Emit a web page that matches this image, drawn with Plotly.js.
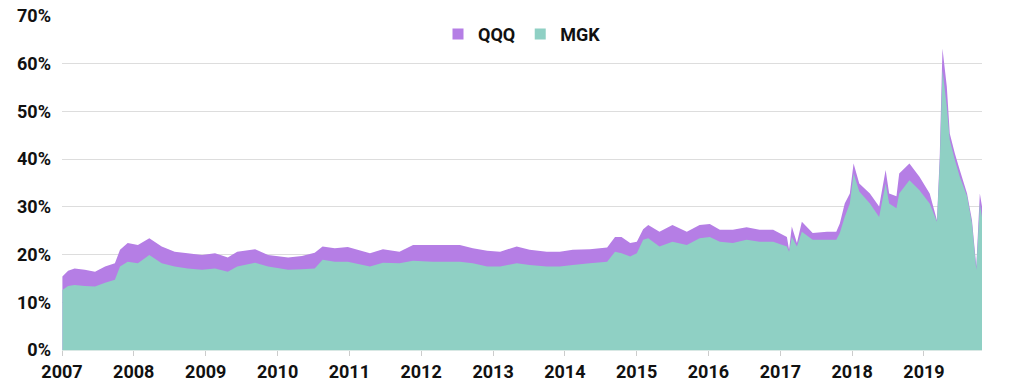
<!DOCTYPE html>
<html>
<head>
<meta charset="utf-8">
<script src="https://cdn.plot.ly/plotly-3.0.1.min.js"></script>
<style>html,body{margin:0;padding:0;background:#fff;}#chart{width:1015px;height:387px;}</style>
</head>
<body>
<div id="chart"></div>
<script>
const dates = [
"2007-01-03","2007-02-01","2007-03-06","2007-04-27","2007-06-18","2007-08-08","2007-09-27","2007-10-23","2007-12-01",
"2008-01-22","2008-03-20","2008-05-22","2008-07-27","2008-10-01","2008-12-13",
"2009-02-17","2009-04-23","2009-06-10","2009-09-09","2009-11-14",
"2010-02-24","2010-05-05","2010-07-09","2010-08-18","2010-10-19","2010-12-24",
"2011-04-16","2011-06-21","2011-09-13","2011-11-21",
"2012-02-28","2012-05-11","2012-07-16","2012-09-20","2012-12-02",
"2013-02-06","2013-05-01","2013-07-06","2013-10-01","2013-12-06",
"2014-02-10","2014-05-08","2014-08-04","2014-09-13","2014-10-16","2014-11-29",
"2015-01-02","2015-02-03","2015-03-01","2015-04-27","2015-07-02","2015-09-13","2015-11-17",
"2016-01-08","2016-02-28","2016-05-04","2016-07-13","2016-09-17","2016-11-25",
"2017-02-03","2017-02-14","2017-02-28","2017-03-26","2017-04-20","2017-06-14","2017-08-26","2017-10-12","2017-10-30","2017-11-24","2017-12-20",
"2018-01-08","2018-02-06","2018-04-01","2018-05-18","2018-06-20","2018-07-08","2018-08-14","2018-08-28","2018-10-19","2018-12-09",
"2019-01-30","2019-03-08","2019-03-22","2019-04-05","2019-04-27","2019-05-12","2019-06-07","2019-07-02","2019-08-08","2019-09-02","2019-09-24","2019-10-12","2019-10-23"
];
const qqq = [
15.4,16.6,17.1,16.8,16.4,17.5,18.2,21.0,22.4,
22.0,23.4,21.7,20.6,20.3,19.9,
20.3,19.4,20.6,21.1,19.9,
19.4,19.7,20.4,21.7,21.3,21.6,
20.3,21.1,20.6,22.0,
22.0,22.0,22.0,21.3,20.8,
20.6,21.7,21.0,20.6,20.6,
21.0,21.1,21.5,23.7,23.7,22.4,
22.7,25.3,26.2,24.8,26.2,24.8,26.2,
26.4,25.2,25.2,25.7,25.2,25.2,
23.7,21.0,25.9,22.4,26.9,24.5,24.8,24.8,26.5,30.7,32.8,
39.1,34.9,32.8,30.1,37.7,32.8,32.2,37.0,39.1,36.3,
32.8,27.2,40.5,63.2,55.2,45.4,41.2,37.7,32.8,27.2,17.5,32.8,30.1
];
const mgk = [
12.6,13.4,13.6,13.4,13.3,14.1,14.7,17.5,18.5,
18.2,19.9,18.2,17.5,17.1,16.8,
17.1,16.4,17.5,18.3,17.5,
16.8,16.9,17.1,18.9,18.5,18.5,
17.5,18.3,18.2,18.7,
18.5,18.5,18.5,18.2,17.5,
17.5,18.2,17.8,17.5,17.5,
17.8,18.2,18.5,20.6,20.3,19.6,
20.3,23.1,23.4,21.7,22.7,22.0,23.4,
23.7,22.7,22.4,23.1,22.7,22.7,
21.7,20.6,23.7,21.7,24.8,23.1,23.1,23.1,24.5,27.9,30.7,
37.0,33.2,30.7,27.9,34.9,30.7,29.7,32.8,35.6,33.5,
30.7,26.9,39.1,58.7,51.0,44.0,39.8,36.3,32.2,26.5,16.8,30.7,27.9
];
const seriesNames = ["QQQ","MGK"];
const yTickVals = [0,10,20,30,40,50,60,70];
const yTickText = ["0%","10%","20%","30%","40%","50%","60%","70%"];

const purple = "rgb(181,126,229)";
const teal = "rgb(143,208,196)";
const fontFam = "Roboto, 'DejaVu Sans', sans-serif";
const tf = {family: fontFam, size: 18, color: "#111", weight: 700};
const traces = [
  {x: dates, y: qqq, name: seriesNames[0], type: "scatter", mode: "none", fill: "tozeroy",
   fillcolor: purple, hoverinfo: "skip", showlegend: false},
  {x: dates, y: mgk, name: seriesNames[1], type: "scatter", mode: "none", fill: "tozeroy",
   fillcolor: teal, hoverinfo: "skip", showlegend: false},
  {x: [null], y: [null], name: seriesNames[0], type: "scatter", mode: "markers",
   marker: {symbol: "square", size: 11, color: purple}, showlegend: true},
  {x: [null], y: [null], name: seriesNames[1], type: "scatter", mode: "markers",
   marker: {symbol: "square", size: 11, color: teal}, showlegend: true}
];
const layout = {
  width: 1015, height: 387,
  margin: {l: 62, r: 33, t: 16, b: 37},
  paper_bgcolor: "#fff", plot_bgcolor: "#fff",
  font: tf,
  showlegend: true,
  legend: {orientation: "h", x: 0.5, xanchor: "center", y: 0.945, yanchor: "middle",
           font: tf, bgcolor: "rgba(0,0,0,0)", itemwidth: 30, tracegroupgap: 0},
  xaxis: {type: "date", range: ["2007-01-01","2019-10-23"], dtick: "M12", tick0: "2007-01-01",
          tickformat: "%Y", ticks: "outside", ticklen: 5, tickcolor: "#ccc", showgrid: false,
          showline: true, linecolor: "#d8e8e4", zeroline: false, tickfont: tf},
  yaxis: {range: [0,70], tickmode: "array", tickvals: yTickVals, ticktext: yTickText,
          showgrid: true, gridcolor: "#dddddd",
          zeroline: false, ticks: "", ticklabelstandoff: 10, tickfont: tf}
};
Plotly.newPlot("chart", traces, layout, {displayModeBar: false, staticPlot: true});
</script>
</body>
</html>
